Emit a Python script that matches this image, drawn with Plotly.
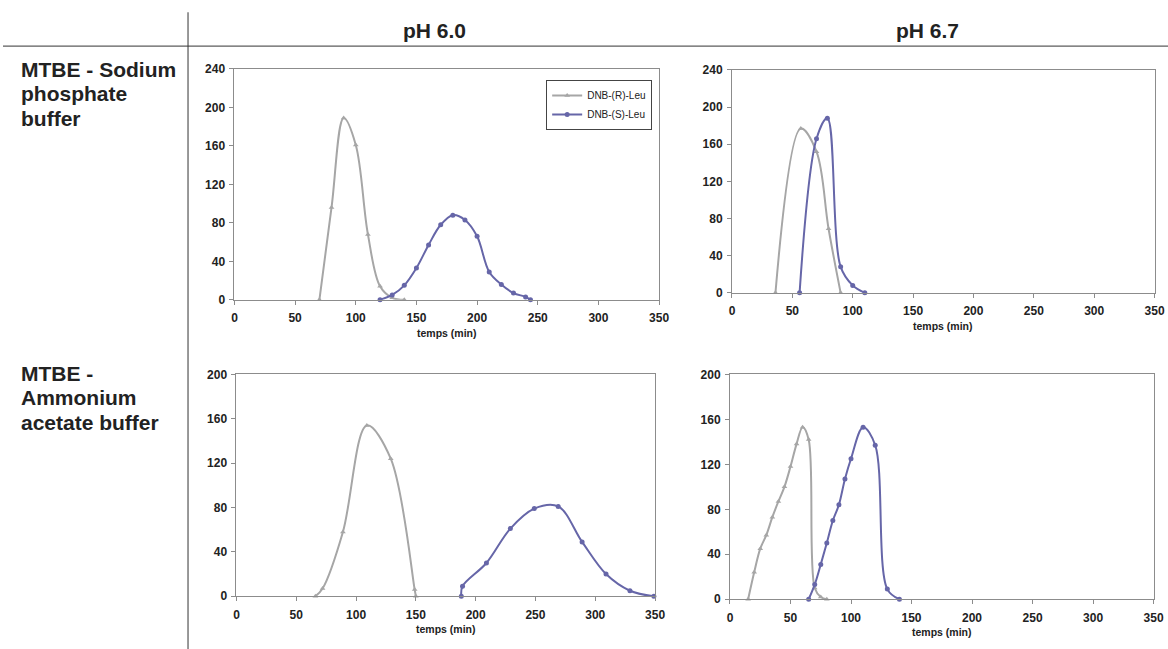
import plotly.graph_objects as go

# ---------------- data ----------------
# Panel A: MTBE - Sodium phosphate buffer, pH 6.0
a_r_x = [70, 80, 90, 100, 110, 120, 130, 140]
a_r_y = [0, 96, 189, 161, 68, 14, 2, 0]
a_s_x = [120, 130, 140, 150, 160, 170, 180, 190, 200, 210, 220, 230, 240, 244]
a_s_y = [0, 5, 15, 33, 57, 78, 88, 83, 66, 29, 16, 7, 3, 0]

# Panel B: MTBE - Sodium phosphate buffer, pH 6.7
b_r_x = [36, 57, 70, 80, 90]
b_r_y = [0, 177, 152, 69, 0]
b_s_x = [56, 70, 79, 90, 100, 110]
b_s_y = [0, 166, 188, 28, 8, 0]

# Panel C: MTBE - Ammonium acetate buffer, pH 6.0
c_r_x = [66, 72, 89, 109, 129, 149, 150]
c_r_y = [0, 7, 58, 154, 124, 6, 0]
c_s_x = [188, 189, 209, 229, 249, 269, 289, 309, 329, 349]
c_s_y = [0, 9, 30, 61, 79, 81, 49, 20, 5, 0]

# Panel D: MTBE - Ammonium acetate buffer, pH 6.7
d_r_x = [15, 20, 25, 30, 35, 40, 45, 50, 55, 60, 65, 70, 75, 80]
d_r_y = [0, 24, 45, 57, 73, 87, 100, 118, 138, 153, 142, 10, 2, 0]
d_s_x = [65, 70, 75, 80, 85, 90, 95, 100, 110, 120, 130, 140]
d_s_y = [0, 13, 31, 50, 70, 84, 107, 125, 153, 137, 9, 0]

series_names = ["DNB-(R)-Leu", "DNB-(S)-Leu"]
col_headers = ["pH 6.0", "pH 6.7"]
row_labels = [["MTBE - Sodium", "phosphate", "buffer"],
              ["MTBE -", "Ammonium", "acetate buffer"]]
x_title = "temps (min)"
x_ticks = [0, 50, 100, 150, 200, 250, 300, 350]
y_ticks_top = [0, 40, 80, 120, 160, 200, 240]
y_ticks_bot = [0, 40, 80, 120, 160, 200]

# ---------------- layout helpers ----------------
W, H = 1185, 665
GRAY = "#A6A6A6"
BLUE = "#6666A8"
AXC = "#8C8C8C"
TXT = "#222222"
FONT = "Arial, Liberation Sans"

# small correction for the capture transform observed in the rendered picture
SX, OX = 0.990, 2.3
SY, OY = 0.984, 4.7


def px_x(p):
    return ((p - OX) / SX) / W


def px_y(p):
    return 1 - ((p - OY) / SY) / H


panels = [
    ("", 234, 659, 67, 299, 240, y_ticks_top, (a_r_x, a_r_y, a_s_x, a_s_y)),
    ("2", 732, 1155, 68, 292, 240, y_ticks_top, (b_r_x, b_r_y, b_s_x, b_s_y)),
    ("3", 236, 655, 374, 597, 200, y_ticks_bot, (c_r_x, c_r_y, c_s_x, c_s_y)),
    ("4", 730, 1154, 374, 600, 200, y_ticks_bot, (d_r_x, d_r_y, d_s_x, d_s_y)),
]

fig = go.Figure()
annotations = []
layout_axes = {}

for i, (ax, x0, x1, yt, yb, ymax, yticks, data) in enumerate(panels):
    rx, ry, sx, sy = data
    xa = "x" + ax
    ya = "y" + ax
    fig.add_trace(go.Scatter(
        x=rx, y=ry, mode="lines+markers", name=series_names[0],
        line=dict(color=GRAY, width=2, shape="spline", smoothing=1.0),
        marker=dict(symbol="triangle-up", size=5, color=GRAY),
        xaxis=xa, yaxis=ya, showlegend=(i == 0), cliponaxis=False))
    fig.add_trace(go.Scatter(
        x=sx, y=sy, mode="lines+markers", name=series_names[1],
        line=dict(color=BLUE, width=2, shape="spline", smoothing=1.0),
        marker=dict(symbol="circle", size=5, color=BLUE),
        xaxis=xa, yaxis=ya, showlegend=(i == 0), cliponaxis=False))

    layout_axes["xaxis" + ax] = dict(
        domain=[px_x(x0), px_x(x1)], range=[0, 350], anchor=ya,
        tickvals=x_ticks, ticks="outside", ticklen=4, tickcolor=AXC,
        showline=True, linecolor=AXC, linewidth=1, mirror=True,
        showgrid=False, zeroline=False, ticklabelstandoff=3,
        tickfont=dict(family=FONT, size=12, color=TXT, weight="bold"))
    layout_axes["yaxis" + ax] = dict(
        domain=[px_y(yb), px_y(yt)], range=[0, ymax], anchor=xa,
        tickvals=yticks, ticks="outside", ticklen=4, tickcolor=AXC,
        showline=True, linecolor=AXC, linewidth=1, mirror=True,
        showgrid=False, zeroline=False, ticklabelstandoff=2,
        tickfont=dict(family=FONT, size=12, color=TXT, weight="bold"))

    annotations.append(dict(
        x=px_x((x0 + x1) / 2), y=px_y(yb + 33), xref="paper", yref="paper",
        text="<b>" + x_title + "</b>", showarrow=False,
        font=dict(family=FONT, size=10.5, color=TXT),
        xanchor="center", yanchor="middle"))

# column headers
for txt, cx in zip(col_headers, [434, 928]):
    annotations.append(dict(
        x=px_x(cx), y=px_y(28), xref="paper", yref="paper", text="<b>" + txt + "</b>",
        showarrow=False, font=dict(family=FONT, size=21, color=TXT),
        xanchor="center", yanchor="middle"))

# row labels
for lines, ys in zip(row_labels, [[68, 92, 117], [373, 397, 422]]):
    for ln, yy in zip(lines, ys):
        annotations.append(dict(
            x=px_x(18), y=px_y(yy), xref="paper", yref="paper",
            text="<b>" + ln + "</b>", showarrow=False,
            font=dict(family=FONT, size=21, color=TXT),
            xanchor="left", yanchor="middle"))

shapes = [
    dict(type="line", xref="paper", yref="paper", x0=0, x1=1,
         y0=px_y(44), y1=px_y(44), line=dict(color="#333333", width=1)),
    dict(type="line", xref="paper", yref="paper", x0=px_x(187.5), x1=px_x(187.5),
         y0=px_y(10), y1=0, line=dict(color="#333333", width=1)),
]

fig.update_layout(
    width=W, height=H, margin=dict(l=0, r=0, t=0, b=0),
    paper_bgcolor="white", plot_bgcolor="white",
    annotations=annotations, shapes=shapes,
    legend=dict(x=px_x(546), y=px_y(78), xanchor="left", yanchor="top",
                bgcolor="white", bordercolor="#444444", borderwidth=1,
                font=dict(family=FONT, size=10, color=TXT),
                itemwidth=30, tracegroupgap=0),
    **layout_axes,
)

fig.write_html(
    "out.html",
    config={"displayModeBar": False},
    post_script=(
        "var gd=document.getElementById('{plot_id}');"
        "gd.style.position='fixed';gd.style.left='0px';gd.style.top='0px';"
        "document.body.style.margin='0';"
        "document.documentElement.style.overflow='hidden';"
        "document.body.style.overflow='hidden';"
    ),
)
